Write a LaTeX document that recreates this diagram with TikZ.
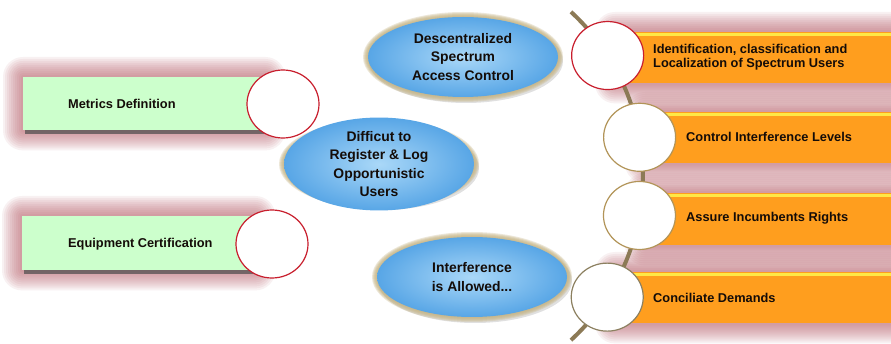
\documentclass[tikz,border=0pt]{standalone}
\usepackage{fontspec}
\setmainfont{Liberation Sans}
\usetikzlibrary{shapes.geometric, backgrounds}
\definecolor{boxgreen}{RGB}{204, 255, 204}
\definecolor{boxorange}{RGB}{255, 158, 30}
\definecolor{glowred}{RGB}{185, 95, 105}
\definecolor{rimtan}{RGB}{196, 178, 128}
\definecolor{blueL}{RGB}{170, 216, 248}
\definecolor{blueD}{RGB}{88, 166, 230}
\definecolor{ringred}{RGB}{200, 30, 45}
\definecolor{ringtan}{RGB}{178, 148, 88}
\definecolor{ringgray}{RGB}{140, 128, 96}
\definecolor{spinecol}{RGB}{140, 122, 86}
\definecolor{topline}{RGB}{255, 232, 70}
\definecolor{inktext}{RGB}{20, 12, 8}

\begin{document}
\begin{tikzpicture}[
    x = 1pt, y = -1pt,
    gbox/.style = {rectangle, fill = boxgreen, inner sep = 0pt, anchor = north west},
    obox/.style = {rectangle, fill = boxorange, inner sep = 0pt, anchor = north west},
    ring/.style = {ellipse, fill = white, line width = 1.2pt, minimum width = 72pt, minimum height = 68pt, inner sep = 0pt},
    bubble/.style = {ellipse, inner color = blueL, outer color = blueD, minimum width = 190pt, minimum height = 80pt, inner sep = 0pt, align = center, text = inktext, font = \fontsize{13.9}{18.5}\selectfont\bfseries},
    txt/.style = {anchor = west, align = left, inner sep = 0pt, text = inktext, font = \fontsize{12.8}{14.5}\selectfont\bfseries},
    spine/.style = {line width = 4pt, spinecol},
]
\useasboundingbox (0,0) rectangle (891,344);

% left side: green boxes
\node[gbox, minimum width = 242pt, minimum height = 53pt] (metrics) at (23,77) {};
\node[gbox, minimum width = 233pt, minimum height = 54pt] (equip) at (22,216) {};
\node[txt] (metricsT) at (68,104) {Metrics Definition};
\node[txt] (equipT) at (68,244) {Equipment Certification};

% right side: orange bars
\node[obox, minimum width = 276pt, minimum height = 51pt] (ob1) at (615,32) {};
\node[obox, minimum width = 246pt, minimum height = 51pt] (ob2) at (645,112) {};
\node[obox, minimum width = 246pt, minimum height = 52pt] (ob3) at (645,193) {};
\node[obox, minimum width = 276pt, minimum height = 51pt] (ob4) at (615,272) {};
\foreach \b in {ob1, ob2, ob3, ob4}
    \draw[topline, line width = 2.2pt] ([yshift = -2.5pt]\b.north west) -- ([yshift = -2.5pt]\b.north east);

% the arc that strings the right circles
\coordinate (hub) at (420,176);
\draw[spine] ([shift = {(-47.4:223)}]hub) arc[start angle = -47.4, end angle = 47.4, radius = 223];

\node[ring, draw = ringred] (c1) at ([shift = {(-32.7:223)}]hub) {};
\node[ring, draw = ringtan] (c2) at ([shift = {(-10:223)}]hub) {};
\node[ring, draw = ringtan] (c3) at ([shift = {(10.2:223)}]hub) {};
\node[ring, draw = ringgray] (c4) at ([shift = {(32.9:223)}]hub) {};

\node[txt] (ob1T) at (653,57) {Identification, classification and\\Localization of Spectrum Users};
\node[txt] (ob2T) at (686,137) {Control Interference Levels};
\node[txt] (ob3T) at (686,218) {Assure Incumbents Rights};
\node[txt] (ob4T) at (653,298) {Conciliate Demands};

% left circles
\node[ring, draw = ringred] (lc1) at (283,104) {};
\node[ring, draw = ringred] (lc2) at (272,244) {};

% blue bubbles
\node[bubble] (dsac) at (463,57) {Descentralized\\Spectrum\\Access Control};
\node[bubble] (reg) at (379,164) {Difficut to\\Register \& Log\\Opportunistic\\Users};
\node[bubble] (intf) at (472,277) {Interference\\is Allowed...};

% glows and shadows
\begin{pgfonlayer}{background}
    \fill[white] (0,0) rectangle (891,344);
    \foreach \b in {metrics, equip, ob1, ob2, ob3, ob4}
        \foreach \r in {2,4,...,20}
            \fill[glowred, opacity = 0.085, rounded corners = \r pt]
                ([shift = {(-\r,-\r)}]\b.north west) rectangle ([shift = {(\r,\r)}]\b.south east);
    \foreach \b in {metrics, equip}
        \fill[black!70, opacity = 0.7]
            ([shift = {(2,2)}]\b.north west) rectangle ([shift = {(3,4)}]\b.south east);
    \foreach \b in {dsac, reg, intf} {
        \fill[black, opacity = 0.12] ([shift = {(3,4)}]\b.center) ellipse [x radius = 97, y radius = 42];
        \foreach \r in {1,...,5}
            \fill[rimtan, opacity = 0.3] (\b.center) ellipse [x radius = 95+\r, y radius = 40+\r];
    }
\end{pgfonlayer}
\end{tikzpicture}
\end{document}
